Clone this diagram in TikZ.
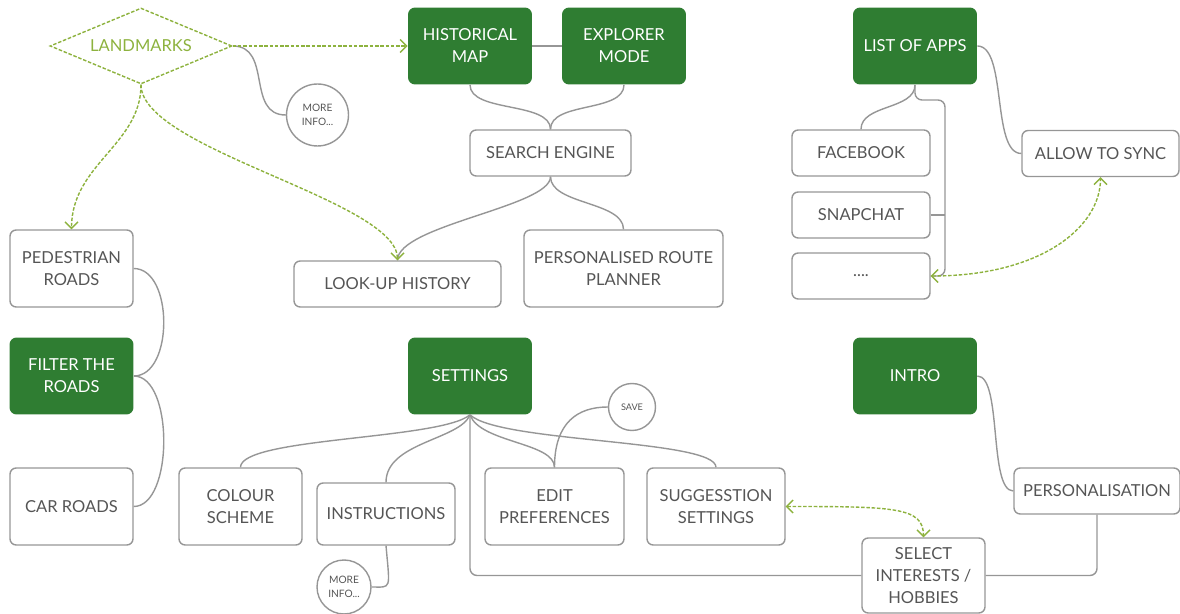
\documentclass[tikz,border=0pt]{standalone}
\usepackage{fontspec}
\setmainfont{Lato}
\usetikzlibrary{shapes.geometric,arrows.meta}

\definecolor{boxgreen}{RGB}{47,125,50}
\definecolor{linkgreen}{RGB}{141,178,62}
\definecolor{linegrey}{RGB}{150,150,150}
\definecolor{textgrey}{RGB}{85,85,85}

\begin{document}
\begin{tikzpicture}[x=0.02cm, y=-0.02cm,
  every node/.style={font=\fontsize{9.4}{12.5}\selectfont, align=center, inner sep=0pt},
  mainbox/.style={fill=boxgreen, text=white, rounded corners=4pt, minimum width=2.48cm, minimum height=1.54cm},
  subbox/.style={draw=linegrey, line width=0.8pt, text=textgrey, rounded corners=3.5pt, minimum height=0.92cm},
  infocircle/.style={circle, draw=linegrey, line width=0.8pt, text=textgrey, font=\fontsize{5.8}{8}\selectfont},
  link/.style={draw=linegrey, line width=0.8pt},
  greenlink/.style={draw=linkgreen, line width=0.8pt, dash pattern=on 2pt off 1pt},
  >={Straight Barb[length=1.3mm,width=2.6mm]}]

\useasboundingbox (0,0) rectangle (1180,614);

% landmarks
\node  [diamond, aspect=2.4, draw=linkgreen, line width=0.8pt, dash pattern=on 2pt off 1pt,
        text=linkgreen, minimum width=3.64cm, minimum height=1.52cm] (landmarks) at (141,46) {LANDMARKS};

% green boxes
\node  [mainbox] (histmap)  at (470,46)   {HISTORICAL\\MAP};
\node  [mainbox] (explorer) at (624,46)   {EXPLORER\\MODE};
\node  [mainbox] (apps)     at (915,46)   {LIST OF APPS};
\node  [mainbox] (filter)   at (71.5,376) {FILTER THE\\ROADS};
\node  [mainbox] (settings) at (470,376)  {SETTINGS};
\node  [mainbox] (intro)    at (915,376)  {INTRO};

% white boxes
\node  [subbox, minimum width=3.22cm] (search)     at (550.5,153)  {SEARCH ENGINE};
\node  [subbox, minimum width=4.14cm] (lookup)     at (397.5,284)  {LOOK-UP HISTORY};
\node  [subbox, minimum width=3.98cm, minimum height=1.54cm] (route) at (623.5,268.5) {PERSONALISED ROUTE\\PLANNER};

\node  [subbox, minimum width=2.76cm] (facebook)   at (861,153)    {FACEBOOK};
\node  [subbox, minimum width=2.76cm] (snapchat)   at (861,215)    {SNAPCHAT};
\node  [subbox, minimum width=2.76cm] (dots)       at (861,276)    {....};
\node  [subbox, minimum width=3.14cm] (sync)       at (1100.5,153.5) {ALLOW TO SYNC};

\node  [subbox, minimum width=2.46cm, minimum height=1.54cm] (pedestrian) at (71.5,268.5) {PEDESTRIAN\\ROADS};
\node  [subbox, minimum width=2.46cm, minimum height=1.54cm] (car)        at (71.5,506.5) {CAR ROADS};

\node  [subbox, minimum width=2.46cm, minimum height=1.54cm] (colour)     at (240.5,506.5) {COLOUR\\SCHEME};
\node  [subbox, minimum width=2.76cm, minimum height=1.24cm] (instr)      at (386,514)     {INSTRUCTIONS};
\node  [subbox, minimum width=2.78cm, minimum height=1.54cm] (edit)       at (554.5,506.5) {EDIT\\PREFERENCES};
\node  [subbox, minimum width=2.76cm, minimum height=1.54cm] (suggest)    at (716,506.5)   {SUGGESSTION\\SETTINGS};
\node  [subbox, minimum width=2.46cm, minimum height=1.5cm]  (select)     at (923.5,575.5) {SELECT\\INTERESTS /\\HOBBIES};
\node  [subbox, minimum width=3.32cm] (perso)      at (1097,491)   {PERSONALISATION};

% circles
\node  [infocircle, minimum size=1.24cm] (moreinfoA) at (317.5,115) {MORE\\INFO...};
\node  [infocircle, minimum size=1.08cm] (moreinfoB) at (344,587)   {MORE\\INFO...};
\node  [infocircle, minimum size=0.94cm, font=\fontsize{5.2}{7}\selectfont] (save) at (632,407) {SAVE};

%------------------------------------------------------
% grey links
\draw  [link]  (landmarks.east) .. controls +(40,0) and +(-40,0) .. (moreinfoA.west);
\draw  [link]  (histmap.east) -- (explorer.west);
\draw  [link]  (histmap.south) .. controls +(0,28) and +(0,-28) .. (search.north);
\draw  [link]  (explorer.south) .. controls +(0,28) and +(0,-28) .. (search.north);
\draw  [link]  (search.south) .. controls +(0,30) and +(0,-35) .. (lookup.north);
\draw  [link]  (search.south) .. controls +(0,28) and +(0,-28) .. (route.north);

\coordinate (appsbus) at (945,100);
\draw  [link]  (apps.south) .. controls +(0,25) and +(0,-25) .. (facebook.north);
\draw  [link, rounded corners=4pt]  (apps.south) |- (appsbus) |- (dots.east);
\draw  [link]  (snapchat.east) -- (snapchat.east -| appsbus);
\draw  [link]  (apps.east) .. controls +(30,0) and +(-30,0) .. (sync.west);

\draw  [link]  (pedestrian.east) .. controls +(40,0) and +(40,0) .. (filter.east);
\draw  [link]  (filter.east) .. controls +(40,0) and +(40,0) .. (car.east);

\draw  [link]  (settings.south) .. controls +(-30,25) and +(0,-30) .. (colour.north);
\draw  [link]  (settings.south) .. controls +(-10,25) and +(0,-40) .. (instr.north);
\draw  [link]  (settings.south) .. controls +(10,28) and +(0,-25) .. (edit.north);
\draw  [link]  (settings.south) .. controls +(30,28) and +(0,-28) .. (suggest.north);
\draw  [link, rounded corners=4pt]  (settings.south) |- (select.west);
\draw  [link]  (edit.north) .. controls +(0,-45) and +(-30,0) .. (save.west);
\draw  [link]  (instr.south) .. controls +(4,45) and +(20,0) .. (moreinfoB.east);

\draw  [link]  (intro.east) .. controls +(25,0) and +(-25,0) .. (perso.west);
\draw  [link, rounded corners=4pt]  (select.east) -| (perso.south);

% green links
\draw  [greenlink, ->]   (landmarks.east) -- (histmap.west);
\draw  [greenlink, ->]   (landmarks.south) .. controls +(0,60) and +(0,-65) .. (pedestrian.north);
\draw  [greenlink, ->]   (landmarks.south) .. controls +(0,65) and +(0,-60) .. (lookup.north);
\draw  [greenlink, <->]  (dots.east) .. controls +(110,0) and +(0,50) .. (sync.south);
\draw  [greenlink, <->]  (suggest.east) .. controls +(110,0) and +(0,-30) .. (select.north);

\end{tikzpicture}
\end{document}
